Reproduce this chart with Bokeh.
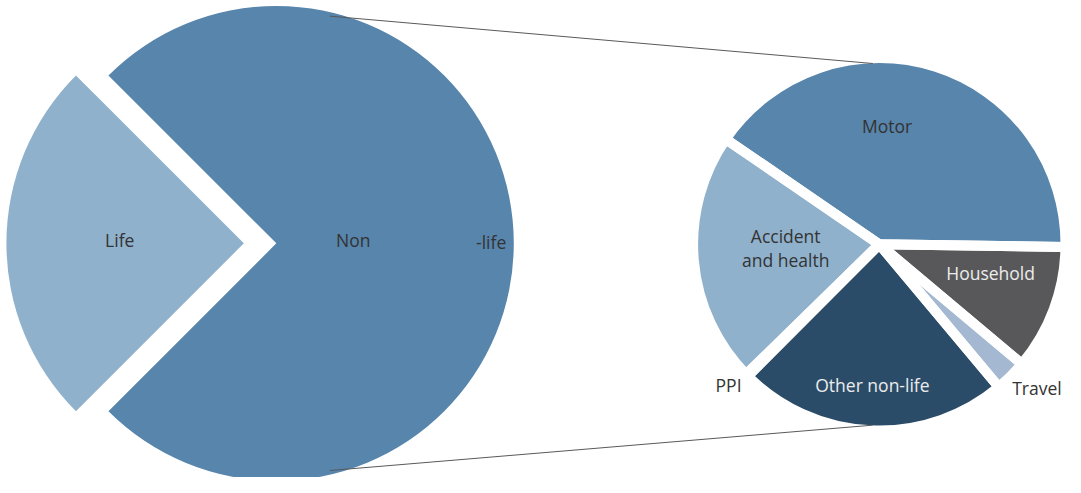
import numpy as np
from bokeh.plotting import figure
from bokeh.models import Range1d, ColumnDataSource
from bokeh.embed import file_html
from bokeh.resources import INLINE
from bokeh.core.properties import value

# ---------------- data ----------------
main_labels = ["Life", "Non-life"]
main_values = [25.0, 75.0]

sub_labels = ["Motor", "Accident and health", "PPI", "Other non-life", "Travel", "Household"]
sub_values = [40.7, 21.9, 0.2, 23.6, 2.8, 10.9]

# ---------------- styles / layout ----------------
main_colors = ["#8FB1CC", "#5785AC"]
sub_colors = ["#5785AC", "#8FB1CC", "#C8D6E3", "#2B4C69", "#A4B9D1", "#58585A"]

W, H = 1065, 477
IMG_W, IMG_H = 1081, 493


def Y(img_y):
    return IMG_H - img_y


p = figure(width=W, height=H, x_range=Range1d(0, IMG_W), y_range=Range1d(0, IMG_H),
           output_backend="svg", toolbar_location=None,
           x_axis_type=None, y_axis_type=None, min_border=0)
p.outline_line_color = None
p.grid.visible = False
p.background_fill_color = "white"
p.border_fill_color = "white"

FONT = value("Open Sans")
FS = "17.5px"

# ---------------- main pie ----------------
big_cx, big_cy, big_r = 280.0, Y(251.0), 241.0
explode = [33.0, 0.0]
fr = np.array(main_values) / sum(main_values) * 2 * np.pi
starts = [np.pi - fr[0] / 2]
for f in fr[:-1]:
    starts.append(starts[-1] + f)
starts = np.array(starts)
ends = starts + fr
mids = (starts + ends) / 2
big_src = ColumnDataSource(dict(
    x=big_cx + np.array(explode) * np.cos(mids),
    y=big_cy + np.array(explode) * np.sin(mids),
    s=starts, e=ends, c=main_colors))
p.wedge(x="x", y="y", radius=big_r, start_angle="s", end_angle="e",
        fill_color="c", line_color=None, source=big_src)

# ---------------- sub pie ----------------
sm_cx, sm_cy, sm_r = 892.0, Y(252.0), 189.0
sm_start = np.deg2rad(-0.8)
sfr = np.array(sub_values) / sum(sub_values) * 2 * np.pi
s_starts = [sm_start]
for f in sfr[:-1]:
    s_starts.append(s_starts[-1] + f)
s_starts = np.array(s_starts)
s_ends = s_starts + sfr
sm_src = ColumnDataSource(dict(x=[sm_cx] * len(sub_values), y=[sm_cy] * len(sub_values),
                               s=s_starts, e=s_ends, c=sub_colors))
p.wedge(x="x", y="y", radius=sm_r, start_angle="s", end_angle="e",
        fill_color="c", line_color=None, source=sm_src)
p.wedge(x="x", y="y", radius=sm_r, start_angle="s", end_angle="e",
        fill_color=None, line_color="white", line_width=10, source=sm_src)

# ---------------- connector lines ----------------
a_big = np.deg2rad(77.0)
a_sm = np.deg2rad(92.0)
r_sm_vis = sm_r - 2
xs = [[big_cx + big_r * np.cos(a_big), sm_cx + r_sm_vis * np.cos(a_sm)],
      [big_cx + big_r * np.cos(-a_big), sm_cx + r_sm_vis * np.cos(-a_sm)]]
ys = [[big_cy + big_r * np.sin(a_big), sm_cy + r_sm_vis * np.sin(a_sm)],
      [big_cy + big_r * np.sin(-a_big), sm_cy + r_sm_vis * np.sin(-a_sm)]]
p.multi_line(xs=xs, ys=ys, line_color="#595959", line_width=1)

# ---------------- labels ----------------
dark = "#333333"
light = "#ececec"
lab = dict(
    text=["Life", "Non", "-life", "Motor", "Accident", "and health",
          "Household", "Other non-life", "PPI", "Travel"],
    x=[121, 358, 498, 900, 797, 797, 1005, 885, 739, 1052],
    y=[Y(v) for v in [248, 248, 250, 130, 243, 268, 282, 397, 397, 401]],
    c=[dark, dark, dark, dark, dark, dark, light, light, dark, dark],
)
p.text(x="x", y="y", text="text", text_color="c", source=ColumnDataSource(lab),
       text_align="center", text_baseline="middle", text_font=FONT, text_font_size=FS)

open("out.html", "w").write(file_html(p, INLINE))
